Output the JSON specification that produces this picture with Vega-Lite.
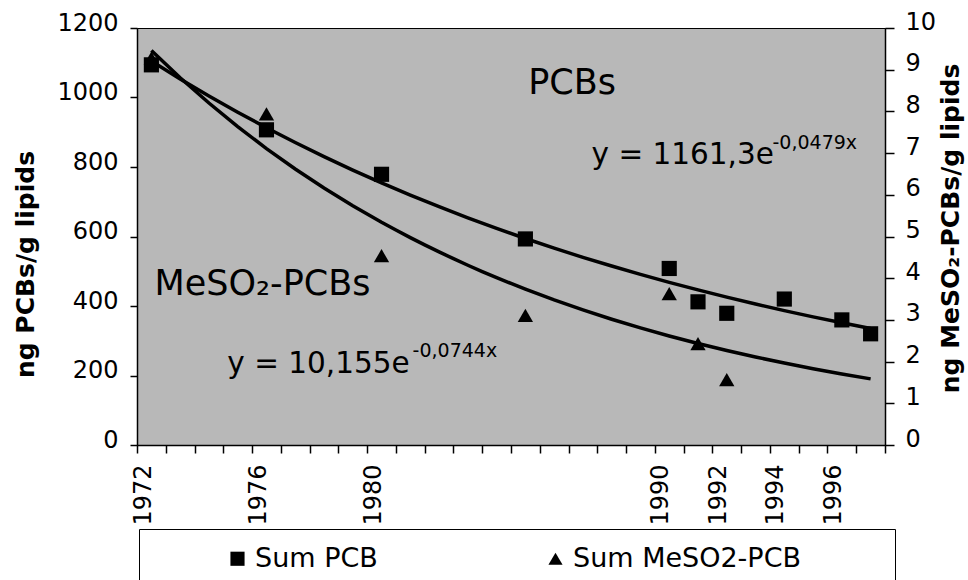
{
  "$schema": "https://vega.github.io/schema/vega-lite/v6.json",
  "width": 748,
  "height": 417,
  "autosize": {"type": "none"},
  "padding": {"left": 137, "top": 28, "right": 83, "bottom": 135},
  "background": "white",
  "config": {
    "font": "DejaVu Sans",
    "view": {"fill": "#b8b8b8", "stroke": "black", "strokeWidth": 1},
    "axis": {
      "grid": false,
      "labelFont": "DejaVu Sans",
      "labelFontSize": 24,
      "labelColor": "black",
      "domainColor": "black",
      "domainWidth": 1.5,
      "tickColor": "black",
      "tickWidth": 1.5,
      "titleFont": "DejaVu Sans",
      "titleFontWeight": "bold",
      "titleFontSize": 25,
      "titleColor": "black"
    }
  },
  "datasets": {
    "pcb": [
      {"year": 1972, "value": 1094, "series": "Sum PCB"},
      {"year": 1976, "value": 907, "series": "Sum PCB"},
      {"year": 1980, "value": 779, "series": "Sum PCB"},
      {"year": 1985, "value": 593, "series": "Sum PCB"},
      {"year": 1990, "value": 508, "series": "Sum PCB"},
      {"year": 1991, "value": 412, "series": "Sum PCB"},
      {"year": 1992, "value": 379, "series": "Sum PCB"},
      {"year": 1994, "value": 420, "series": "Sum PCB"},
      {"year": 1996, "value": 360, "series": "Sum PCB"},
      {"year": 1997, "value": 320, "series": "Sum PCB"}
    ],
    "meso2": [
      {"year": 1972, "value": 9.28, "series": "Sum MeSO2-PCB"},
      {"year": 1976, "value": 7.94, "series": "Sum MeSO2-PCB"},
      {"year": 1980, "value": 4.54, "series": "Sum MeSO2-PCB"},
      {"year": 1985, "value": 3.11, "series": "Sum MeSO2-PCB"},
      {"year": 1990, "value": 3.63, "series": "Sum MeSO2-PCB"},
      {"year": 1991, "value": 2.43, "series": "Sum MeSO2-PCB"},
      {"year": 1992, "value": 1.57, "series": "Sum MeSO2-PCB"}
    ],
    "labels": [
      {"text": "PCBs", "year": 1985.1, "value": 1011},
      {"text": "MeSO₂-PCBs", "year": 1972.11, "value": 432}
    ],
    "equations": [
      {"text": "y = 1161,3e", "year": 1987.3, "value": 809},
      {"text": "y = 10,155e", "year": 1974.64, "value": 208}
    ],
    "exponents": [
      {"text": "-0,0479x", "year": 1993.59, "value": 853},
      {"text": "-0,0744x", "year": 1981.08, "value": 254}
    ]
  },
  "encoding": {
    "x": {
      "field": "year",
      "type": "quantitative",
      "scale": {"domain": [1971.5, 1997.5], "nice": false, "zero": false},
      "axis": {
        "title": null,
        "values": [1971.5, 1972.5, 1973.5, 1974.5, 1975.5, 1976.5, 1977.5, 1978.5, 1979.5, 1980.5, 1981.5, 1982.5, 1983.5, 1984.5, 1985.5, 1986.5, 1987.5, 1988.5, 1989.5, 1990.5, 1991.5, 1992.5, 1993.5, 1994.5, 1995.5, 1996.5, 1997.5],
        "labelExpr": "indexof([1972, 1976, 1980, 1990, 1992, 1994, 1996], datum.value + 0.5) >= 0 ? format(datum.value + 0.5, 'd') : ''",
        "labelAngle": -90,
        "labelOffset": 6,
        "labelOverlap": false,
        "labelFlush": false,
        "labelBound": false,
        "tickSize": 8,
        "labelPadding": 11
      }
    }
  },
  "layer": [
    {
      "encoding": {
        "y": {
          "field": "value",
          "type": "quantitative",
          "scale": {"domain": [0, 1200], "nice": false},
          "axis": {
            "orient": "left",
            "title": "ng PCBs/g lipids",
            "values": [0, 200, 400, 600, 800, 1000, 1200],
            "format": "d",
            "tickSize": 7,
            "labelPadding": 12,
            "labelOffset": -5,
            "titlePadding": 18,
            "titleY": 236
          }
        }
      },
      "layer": [
        {
          "data": {"name": "pcb"},
          "transform": [{"regression": "value", "on": "year", "method": "exp", "extent": [1972, 1997]}],
          "mark": {"type": "line", "color": "black", "strokeWidth": 3.5},
          "encoding": {}
        },
        {
          "data": {"name": "pcb"},
          "mark": {"type": "point", "filled": true, "color": "black", "opacity": 1, "size": 230},
          "encoding": {
            "shape": {
              "field": "series",
              "type": "nominal",
              "scale": {"domain": ["Sum PCB", "Sum MeSO2-PCB"], "range": ["square", "triangle-up"]},
              "legend": {
                "orient": "none",
                "legendX": 2,
                "legendY": 501,
                "direction": "horizontal",
                "columns": 2,
                "columnPadding": 164,
                "title": "\u200b\u00a0\u00a0\u00a0\u00a0\u00a0\u00a0\u00a0\u200b",
                "titleOrient": "left",
                "titlePadding": 3,
                "titleFont": "DejaVu Sans",
                "titleFontSize": 27,
                "titleLimit": 0,
                "labelFont": "DejaVu Sans",
                "labelFontSize": 27,
                "labelColor": "black",
                "labelOffset": 4,
                "labelLimit": 0,
                "labelExpr": "datum.label == 'Sum MeSO2-PCB' ? datum.label + '\u00a0\u00a0\u00a0\u00a0\u00a0\u00a0\u00a0\u00a0\u00a0\u200b' : datum.label",
                "symbolSize": 200,
                "symbolFillColor": "black",
                "symbolStrokeColor": "black",
                "symbolStrokeWidth": 0,
                "symbolOpacity": 1,
                "strokeColor": "black",
                "fillColor": "white",
                "padding": 16,
                "cornerRadius": 0
              }
            }
          }
        },
        {
          "data": {"name": "labels"},
          "mark": {"type": "text", "align": "left", "baseline": "alphabetic", "fontSize": 35, "font": "DejaVu Sans", "color": "black"},
          "encoding": {"text": {"field": "text"}}
        },
        {
          "data": {"name": "equations"},
          "mark": {"type": "text", "align": "left", "baseline": "alphabetic", "fontSize": 29.5, "font": "DejaVu Sans", "color": "black"},
          "encoding": {"text": {"field": "text"}}
        },
        {
          "data": {"name": "exponents"},
          "mark": {"type": "text", "align": "left", "baseline": "alphabetic", "fontSize": 19, "font": "DejaVu Sans", "color": "black"},
          "encoding": {"text": {"field": "text"}}
        }
      ]
    },
    {
      "encoding": {
        "y": {
          "field": "value",
          "type": "quantitative",
          "scale": {"domain": [0, 10], "nice": false},
          "axis": {
            "orient": "right",
            "title": "ng MeSO₂-PCBs/g lipids",
            "values": [0, 1, 2, 3, 4, 5, 6, 7, 8, 9, 10],
            "format": "d",
            "tickSize": 9,
            "labelPadding": 11,
            "labelOffset": -6,
            "titleAngle": 270,
            "titleBaseline": "top",
            "titlePadding": 3,
            "titleY": 200
          }
        }
      },
      "layer": [
        {
          "data": {"name": "meso2"},
          "transform": [{"regression": "value", "on": "year", "method": "exp", "extent": [1972, 1997]}],
          "mark": {"type": "line", "color": "black", "strokeWidth": 3.5},
          "encoding": {}
        },
        {
          "data": {"name": "meso2"},
          "mark": {"type": "point", "filled": true, "color": "black", "opacity": 1, "size": 235},
          "encoding": {
            "shape": {
              "field": "series",
              "type": "nominal",
              "scale": {"domain": ["Sum PCB", "Sum MeSO2-PCB"], "range": ["square", "triangle-up"]}
            }
          }
        }
      ]
    }
  ],
  "resolve": {"scale": {"y": "independent"}}
}
